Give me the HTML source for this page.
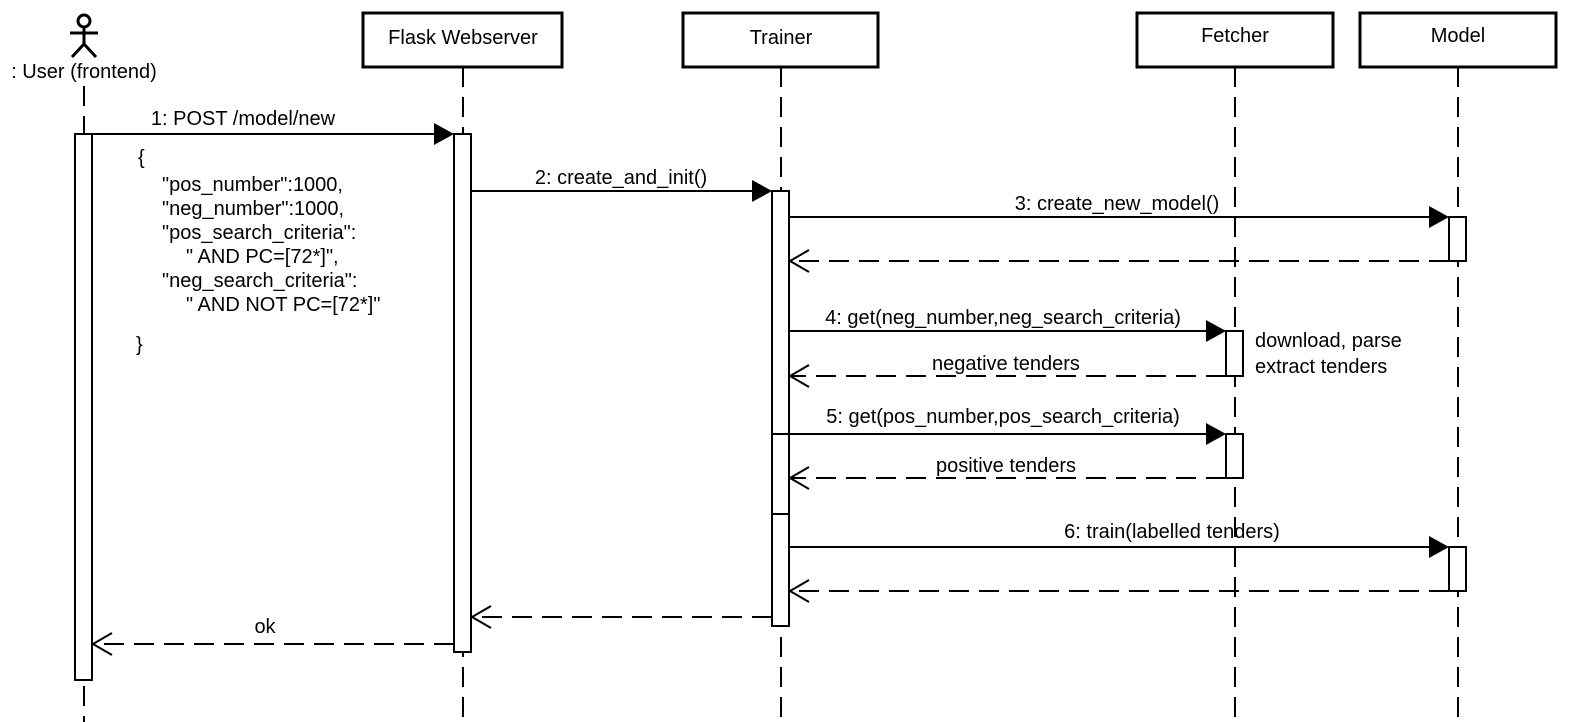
<!DOCTYPE html>
<html><head><meta charset="utf-8"><style>html,body{margin:0;padding:0;background:#fff}svg{display:block}</style></head>
<body>
<svg width="1569" height="722" xmlns="http://www.w3.org/2000/svg" font-family="Liberation Sans, Arial, sans-serif" font-size="20" fill="#000">
<g stroke="#000" stroke-width="2" stroke-dasharray="20,10" fill="none">
<line x1="84" y1="86" x2="84" y2="722"/>
<line x1="463" y1="67" x2="463" y2="722"/>
<line x1="781" y1="67" x2="781" y2="722"/>
<line x1="1235" y1="67" x2="1235" y2="722"/>
<line x1="1458" y1="67" x2="1458" y2="722"/>
</g>
<g stroke="#000" stroke-width="3" fill="#fff">
<rect x="363" y="13" width="199" height="54"/>
<rect x="683" y="13" width="195" height="54"/>
<rect x="1137" y="13" width="196" height="54"/>
<rect x="1360" y="13" width="196" height="54"/>
</g>
<g text-anchor="middle">
<text x="463" y="44">Flask Webserver</text>
<text x="781" y="44">Trainer</text>
<text x="1235" y="42">Fetcher</text>
<text x="1458" y="42">Model</text>
<text x="84" y="78">: User (frontend)</text>
</g>
<g stroke="#000" stroke-width="3" fill="none">
<circle cx="84" cy="21" r="6"/>
<line x1="84" y1="27" x2="84" y2="44"/>
<line x1="70" y1="33" x2="98" y2="33"/>
<line x1="84" y1="44" x2="72" y2="57"/>
<line x1="84" y1="44" x2="96" y2="57"/>
</g>
<g stroke="#000" stroke-width="2" fill="#fff">
<rect x="75" y="134" width="17" height="546"/>
<rect x="454" y="134" width="17" height="518"/>
<rect x="772" y="191" width="17" height="435"/>
<line x1="772" y1="434" x2="789" y2="434"/>
<line x1="772" y1="514" x2="789" y2="514"/>
<rect x="1449" y="217" width="17" height="44"/>
<rect x="1449" y="547" width="17" height="44"/>
<rect x="1226" y="331" width="17" height="45"/>
<rect x="1226" y="434" width="17" height="44"/>
</g>
<g stroke="#000" stroke-width="2">
<line x1="92" y1="134" x2="434" y2="134"/>
<line x1="471" y1="191" x2="752" y2="191"/>
<line x1="789" y1="217" x2="1429" y2="217"/>
<line x1="789" y1="331" x2="1206" y2="331"/>
<line x1="789" y1="434" x2="1206" y2="434"/>
<line x1="789" y1="547" x2="1429" y2="547"/>
</g>
<g fill="#000">
<polygon points="434,123 454,134 434,145"/>
<polygon points="752,180 772,191 752,202"/>
<polygon points="1429,206 1449,217 1429,228"/>
<polygon points="1206,320 1226,331 1206,342"/>
<polygon points="1206,423 1226,434 1206,445"/>
<polygon points="1429,536 1449,547 1429,558"/>
</g>
<g stroke="#000" stroke-width="2" fill="none">
<g stroke-dasharray="20,10">
<line x1="1449" y1="261" x2="790" y2="261"/>
<line x1="1226" y1="376" x2="790" y2="376"/>
<line x1="1226" y1="478" x2="790" y2="478"/>
<line x1="1449" y1="591" x2="790" y2="591"/>
<line x1="772" y1="617" x2="472" y2="617"/>
<line x1="454" y1="644" x2="93" y2="644"/>
</g>
<polyline points="809,250 790,261 809,272"/>
<polyline points="809,365 790,376 809,387"/>
<polyline points="809,467 790,478 809,489"/>
<polyline points="809,580 790,591 809,602"/>
<polyline points="491,606 472,617 491,628"/>
<polyline points="112,633 93,644 112,655"/>
</g>
<g text-anchor="middle">
<text x="243" y="125">1: POST /model/new</text>
<text x="621" y="184">2: create_and_init()</text>
<text x="1117" y="210">3: create_new_model()</text>
<text x="1003" y="324">4: get(neg_number,neg_search_criteria)</text>
<text x="1006" y="370">negative tenders</text>
<text x="1003" y="423">5: get(pos_number,pos_search_criteria)</text>
<text x="1006" y="472">positive tenders</text>
<text x="1172" y="538">6: train(labelled tenders)</text>
<text x="265" y="633">ok</text>
</g>
<text x="138" y="164">{</text>
<text x="162" y="191">"pos_number":1000,</text>
<text x="162" y="215">"neg_number":1000,</text>
<text x="162" y="239">"pos_search_criteria":</text>
<text x="186" y="263">" AND PC=[72*]",</text>
<text x="162" y="287">"neg_search_criteria":</text>
<text x="186" y="311">" AND NOT PC=[72*]"</text>
<text x="136" y="351">}</text>
<text x="1255" y="347">download, parse</text>
<text x="1255" y="373">extract tenders</text>
</svg>
</body></html>
